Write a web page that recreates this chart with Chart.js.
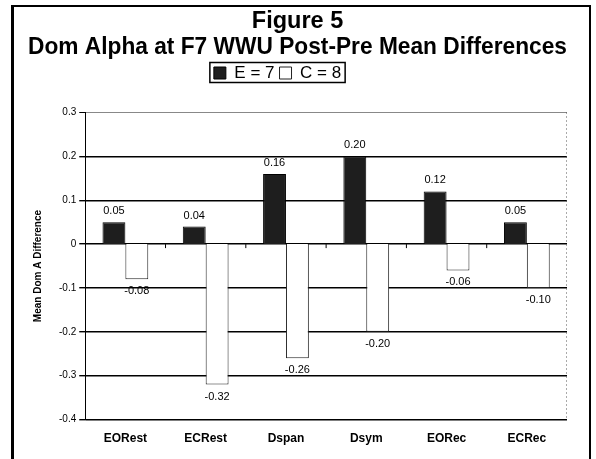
<!DOCTYPE html>
<html>
<head>
<meta charset="utf-8">
<script src="https://cdn.jsdelivr.net/npm/chart.js@4/dist/chart.umd.min.js"></script>
<style>
  body { margin: 0; background: #fff; }
  #wrap { position: relative; width: 596px; height: 459px; overflow: hidden; }
  #frame { position: absolute; left: 11px; top: 5px; width: 580px; height: 470px; border: 2px solid #000; border-left-width: 3px; box-sizing: border-box; }
  canvas { position: absolute; left: 0; top: 0; }
</style>
</head>
<body>
<div id="wrap">
  <div id="frame"></div>
  <canvas id="chart" width="596" height="459"></canvas>
</div>
<script>
const categories = ['EORest', 'ECRest', 'Dspan', 'Dsym', 'EORec', 'ECRec'];
const eValues = [0.05, 0.04, 0.16, 0.20, 0.12, 0.05];
const cValues = [-0.08, -0.32, -0.26, -0.20, -0.06, -0.10];
const seriesNames = ['E = 7', 'C = 8'];

const FONT = 'Arial, "Liberation Sans", sans-serif';
const LEGEND_SHIFT = -20; // legend sits a bit left of centre in the original

// push the plot down below the legend, nudge legend left
const legendTweak = {
    id: 'legendTweak',
    beforeInit(chart) {
        const legend = chart.legend;
        const origFit = legend.fit;
        legend.fit = function () {
            origFit.bind(legend)();
            this.height += 21;
        };
        const origDraw = legend.draw;
        legend.draw = function () {
            const ctx = chart.ctx;
            ctx.save();
            ctx.translate(LEGEND_SHIFT, 0);
            origDraw.bind(legend)();
            ctx.restore();
        };
    }
};

// box around the legend items, excel style
const legendBox = {
    id: 'legendBox',
    afterDraw(chart) {
        const boxes = chart.legend.legendHitBoxes;
        if (!boxes || !boxes.length) return;
        const left = Math.min(...boxes.map(b => b.left)) - 4 + LEGEND_SHIFT;
        const right = Math.max(...boxes.map(b => b.left + b.width)) + 4 + LEGEND_SHIFT;
        const top = Math.min(...boxes.map(b => b.top)) - 2;
        const bottom = Math.max(...boxes.map(b => b.top + b.height)) + 1;
        const ctx = chart.ctx;
        ctx.save();
        ctx.strokeStyle = '#000';
        ctx.lineWidth = 1.5;
        ctx.strokeRect(left, top, right - left, bottom - top);
        ctx.restore();
    }
};

// dotted right edge of plot + little x ticks on the zero line
const plotExtras = {
    id: 'plotExtras',
    afterDatasetsDraw(chart) {
        const ctx = chart.ctx;
        const area = chart.chartArea;
        const x = chart.scales.x;
        const y0 = chart.scales.y.getPixelForValue(0);
        ctx.save();
        ctx.strokeStyle = '#555';
        ctx.lineWidth = 1;
        ctx.setLineDash([1, 3]);
        ctx.beginPath();
        ctx.moveTo(area.right - 0.5, area.top);
        ctx.lineTo(area.right - 0.5, area.bottom);
        ctx.stroke();
        ctx.setLineDash([]);
        ctx.strokeStyle = '#000';
        ctx.beginPath();
        for (let i = 0; i < categories.length - 1; i++) {
            const px = (x.getPixelForTick(i) + x.getPixelForTick(i + 1)) / 2;
            ctx.moveTo(px, y0);
            ctx.lineTo(px, y0 + 4);
        }
        ctx.stroke();
        ctx.restore();
    }
};

// value labels above / below the bars
const valueLabels = {
    id: 'valueLabels',
    afterDatasetsDraw(chart) {
        const ctx = chart.ctx;
        ctx.save();
        ctx.font = '11px ' + FONT;
        ctx.fillStyle = '#000';
        ctx.textAlign = 'center';
        ctx.textBaseline = 'middle';
        chart.data.datasets.forEach((ds, i) => {
            chart.getDatasetMeta(i).data.forEach((bar, j) => {
                const v = ds.data[j];
                const y = v >= 0 ? bar.y - 11 : bar.y + 12;
                ctx.fillText(v.toFixed(2), bar.x, y);
            });
        });
        ctx.restore();
    }
};

new Chart(document.getElementById('chart'), {
    type: 'bar',
    data: {
        labels: categories,
        datasets: [{
            label: seriesNames[0],
            data: eValues,
            backgroundColor: '#1e1e1e',
            borderColor: '#000',
            borderWidth: 1,
            categoryPercentage: 0.57,
            barPercentage: 1
        }, {
            label: seriesNames[1],
            data: cValues,
            backgroundColor: '#fff',
            borderColor: '#222',
            borderWidth: 1,
            categoryPercentage: 0.57,
            barPercentage: 1
        }]
    },
    options: {
        responsive: false,
        animation: false,
        layout: { padding: { left: 28, right: 29, top: 4, bottom: 1 } },
        plugins: {
            title: {
                display: true,
                text: 'Figure 5',
                color: '#000',
                font: { family: FONT, size: 23.5, weight: 'bold', lineHeight: 1 },
                padding: { top: 6, bottom: 0 }
            },
            subtitle: {
                display: true,
                text: 'Dom Alpha at F7 WWU Post-Pre Mean Differences',
                color: '#000',
                font: { family: FONT, size: 24, weight: 'bold', lineHeight: 1 },
                padding: { top: 2, bottom: 0 }
            },
            legend: {
                display: true,
                position: 'top',
                labels: {
                    color: '#000',
                    font: { family: FONT, size: 17 },
                    boxWidth: 12,
                    boxHeight: 12,
                    padding: 5
                }
            },
            tooltip: { enabled: false }
        },
        scales: {
            x: {
                grid: { display: false, drawTicks: false },
                border: { display: false },
                ticks: {
                    color: '#000',
                    padding: 12,
                    font: { family: FONT, size: 12, weight: 'bold' }
                }
            },
            y: {
                min: -0.4,
                max: 0.3,
                ticks: {
                    stepSize: 0.1,
                    color: '#000',
                    padding: 3,
                    font: { family: FONT, size: 10 },
                    callback: v => (Math.abs(v) < 1e-9 ? '0' : v.toFixed(1))
                },
                grid: {
                    color: c => (c.tick && c.tick.value > 0.25 ? '#888' : '#000'),
                    lineWidth: c => (c.tick && c.tick.value > 0.25 ? 1 : 1.4),
                    tickColor: '#000',
                    tickLength: 6
                },
                border: { display: true, color: '#000', width: 1 },
                title: {
                    display: true,
                    text: 'Mean Dom A Difference',
                    color: '#000',
                    font: { family: FONT, size: 10, weight: 'bold' },
                    padding: { top: 4, bottom: 12 }
                }
            }
        }
    },
    plugins: [legendTweak, legendBox, plotExtras, valueLabels]
});
</script>
</body>
</html>
